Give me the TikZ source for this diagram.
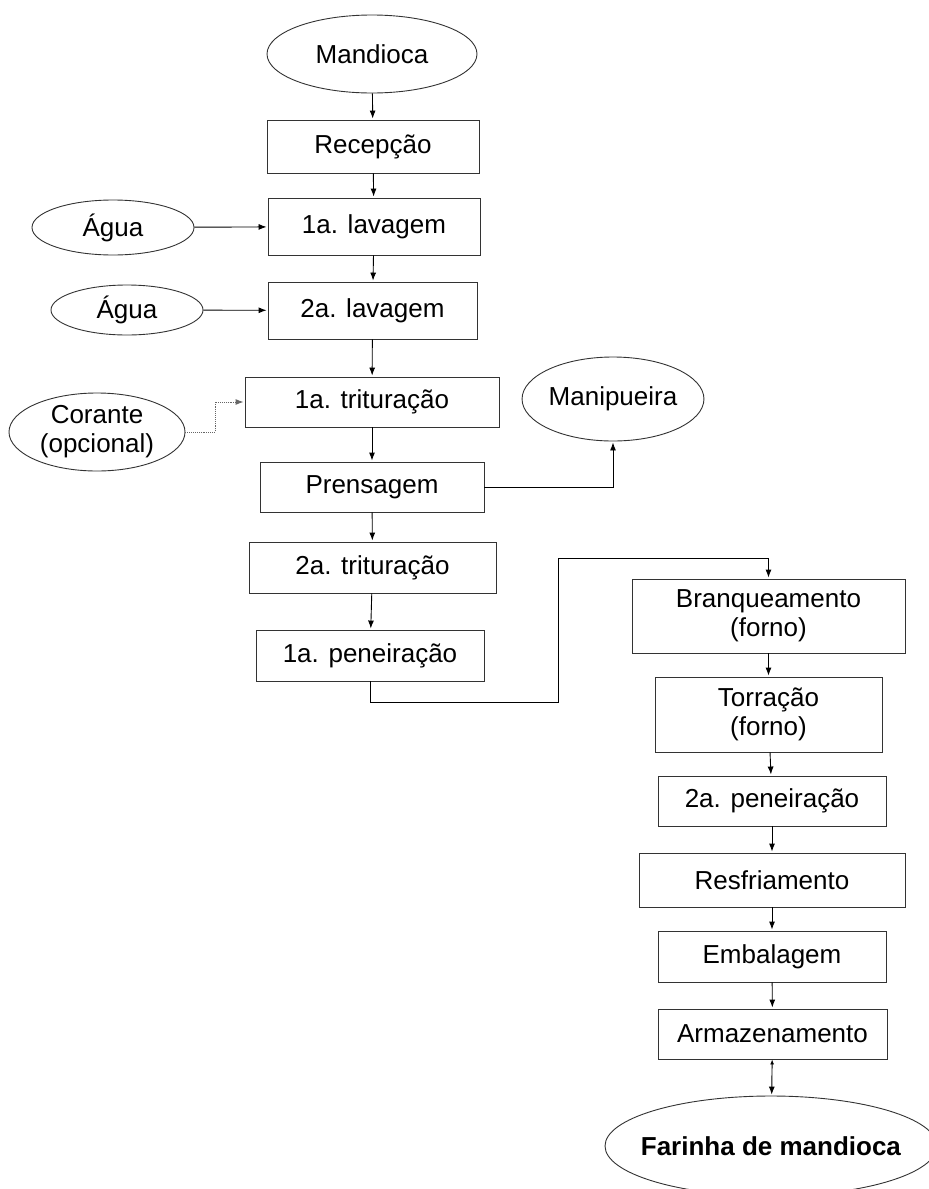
\documentclass[tikz,border=0pt]{standalone}
\usepackage{fontspec}
\setmainfont{Liberation Sans}
\usetikzlibrary{shapes.geometric}
\usetikzlibrary{positioning}
\usetikzlibrary{arrows.meta}

\begin{document}
\begin{tikzpicture}[x=1pt,y=-1pt,->,>={Latex[length=8pt,width=6pt]},shorten >=1pt,line width=0.9pt,
	proc node/.style={rectangle,draw=black!80,inner sep=0pt,align=center,font=\fontsize{26}{29}\selectfont},
	io node/.style={ellipse,draw=black!80,inner sep=0pt,align=center,font=\fontsize{26}{29}\selectfont}]
	
	\useasboundingbox (0,0) rectangle (929,1189);
	
	\node[io node, minimum width=210, minimum height=78] (man) at (372,54) {Mandioca};
	\node[proc node, minimum width=212, minimum height=53] (rec) at (373,146.5) {Recepção};
	\node[proc node, minimum width=212, minimum height=57] (l1) at (374,226.5) {1a. lavagem};
	\node[proc node, minimum width=209, minimum height=57] (l2) at (372.5,310.5) {2a. lavagem};
	\node[proc node, minimum width=254, minimum height=50] (t1) at (372,402) {1a. trituração};
	\node[proc node, minimum width=224, minimum height=50] (pre) at (372,487) {Prensagem};
	\node[proc node, minimum width=247, minimum height=51] (t2) at (372.5,567.5) {2a. trituração};
	\node[proc node, minimum width=228, minimum height=51] (p1) at (370,655.5) {1a. peneiração};
	
	\node[io node, minimum width=162, minimum height=55] (ag1) at (113,227.5) {Água};
	\node[io node, minimum width=152, minimum height=50] (ag2) at (127,310) {Água};
	\node[io node, minimum width=176, minimum height=78] (cor) at (97,432) {Corante\\(opcional)};
	\node[io node, minimum width=176, minimum height=84] (mani) at (613,399) {Manipueira};
	
	\node[proc node, minimum width=273, minimum height=74] (bra) at (768.5,616) {Branqueamento\\(forno)};
	\node[proc node, minimum width=227, minimum height=75] (tor) at (768.5,714.5) {Torração\\(forno)};
	\node[proc node, minimum width=228, minimum height=50] (p2) at (772,801) {2a. peneiração};
	\node[proc node, minimum width=266, minimum height=54] (res) at (772,880) {Resfriamento};
	\node[proc node, minimum width=228, minimum height=51] (emb) at (772,956.5) {Embalagem};
	\node[proc node, minimum width=229, minimum height=50] (arm) at (772.5,1034) {Armazenamento};
	\node[io node, inner xsep=-13pt, minimum width=332, minimum height=100] (far) at (771,1146) {\textbf{Farinha de mandioca}};
	
	\coordinate (k1) at (215,402);
	\coordinate (k2) at (558,702);
	\coordinate (k3) at (558,558);
	
	\path
	(man) edge (rec)
	(rec) edge (l1)
	(l1) edge (l2)
	(l2) edge (t1)
	(t1) edge (pre)
	(pre) edge (t2)
	(t2) edge (p1)
	(ag1) edge (l1)
	(ag2) edge (l2)
	(bra) edge (tor)
	(tor) edge (p2)
	(p2) edge (res)
	(res) edge (emb)
	(emb) edge (arm)
	(arm) edge[{Latex[length=5pt,width=4pt]}-{Latex[length=8pt,width=6pt]}] (far);
	
	\draw[densely dotted, black!60] (cor.east) -| (k1) -- (t1.west);
	\draw (pre.east) -| (mani.south);
	\draw (p1.south) |- (k2) -- (k3) -| (bra.north);
\end{tikzpicture}
\end{document}
